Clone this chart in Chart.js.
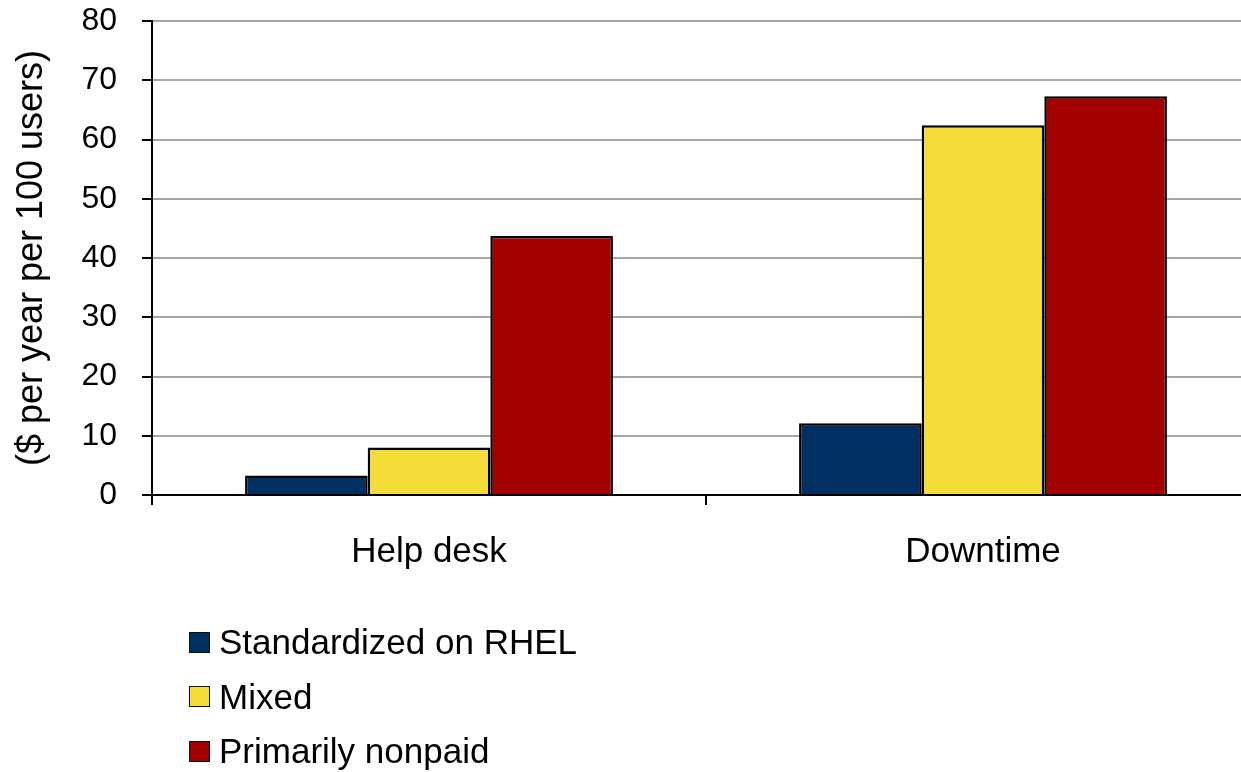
<!DOCTYPE html>
<html>
<head>
<meta charset="utf-8">
<script src="https://cdn.jsdelivr.net/npm/chart.js@4.4.1/dist/chart.umd.min.js"></script>
<style>
  html, body { margin: 0; padding: 0; background: #fff; overflow: hidden; }
  #wrap { position: relative; width: 1260px; height: 772px; }
  #legend { position: absolute; left: 189px; top: 615px; font-family: "Liberation Sans", Arial, sans-serif; font-size: 35px; color: #000; }
  #legend .row { display: flex; align-items: center; height: 54.5px; }
  #legend .box { width: 19px; height: 19px; border: 1px solid #111; margin-right: 9px; }
</style>
</head>
<body>
<div id="wrap">
  <canvas id="chart"></canvas>
  <div id="legend"></div>
</div>
<script>
var categories = ["Help desk", "Downtime"];
var seriesNames = ["Standardized on RHEL", "Mixed", "Primarily nonpaid"];
var seriesColors = ["#002f62", "#f6dc38", "#a30000"];
var rhelValues = [3.3, 12.1];
var mixedValues = [8.0, 62.4];
var nonpaidValues = [43.7, 67.3];
var yTicks = [0, 10, 20, 30, 40, 50, 60, 70, 80];

document.addEventListener("DOMContentLoaded", function() {
  var allValues = [rhelValues, mixedValues, nonpaidValues];
  var datasets = seriesNames.map(function(name, i) {
    return {
      label: name,
      data: allValues[i],
      backgroundColor: seriesColors[i],
      borderColor: "#000",
      borderWidth: 2.5,
      barPercentage: 1,
      categoryPercentage: 0.664
    };
  });

  var ctx = document.getElementById("chart").getContext("2d");
  var chart = new Chart(ctx, {
    type: "bar",
    data: { labels: categories, datasets: datasets },
    options: {
      responsive: true,
      maintainAspectRatio: false,
      animation: false,
      layout: { padding: { top: 21, left: 0, right: 0, bottom: 177 } },
      plugins: {
        legend: { display: false },
        tooltip: { enabled: false }
      },
      scales: {
        x: {
          offset: true,
          grid: { display: true, drawOnChartArea: false, drawTicks: true, tickLength: 10, color: "#000", lineWidth: 2, offset: true },
          border: { display: true, color: "#000", width: 2 },
          ticks: { color: "#000", padding: 26, font: { family: "Liberation Sans", size: 35 } },
          afterFit: function(scale) { scale.height = 100; }
        },
        y: {
          min: 0,
          max: 80,
          afterBuildTicks: function(scale) {
            scale.ticks = yTicks.map(function(v) { return { value: v }; });
          },
          grid: { color: "#a6a6a6", lineWidth: 2, tickColor: "#000", tickLength: 10 },
          border: { display: true, color: "#000", width: 2 },
          ticks: { color: "#000", padding: 25, font: { family: "Liberation Sans", size: 32 } },
          title: {
            display: true,
            text: "($ per year per 100 users)",
            color: "#000",
            padding: { top: 10, bottom: 0 },
            font: { family: "Liberation Sans", size: 36 }
          },
          afterFit: function(scale) {
            scale.width = 152;
            scale.paddingTop = 0;
            scale.paddingBottom = 0;
          }
        }
      }
    }
  });

  // Vertical legend below the chart, built from the chart's datasets
  var legend = document.getElementById("legend");
  chart.data.datasets.forEach(function(ds) {
    var row = document.createElement("div");
    row.className = "row";
    var box = document.createElement("span");
    box.className = "box";
    box.style.background = ds.backgroundColor;
    var text = document.createElement("span");
    text.textContent = ds.label;
    row.appendChild(box);
    row.appendChild(text);
    legend.appendChild(row);
  });
});
</script>
</body>
</html>
